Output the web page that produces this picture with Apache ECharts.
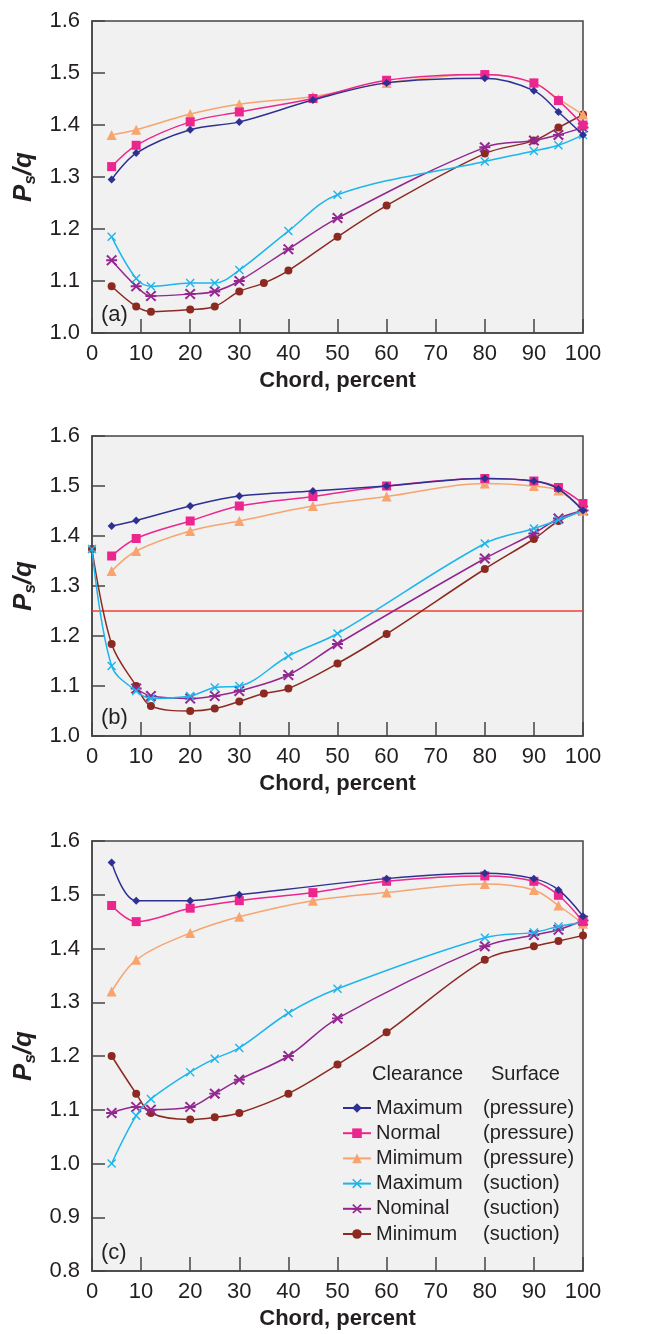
<!DOCTYPE html>
<html>
<head>
<meta charset="utf-8">
<script src="https://cdn.jsdelivr.net/npm/echarts@6/dist/echarts.min.js"></script>
<style>
html,body{margin:0;padding:0;background:#fff;}
#chart{width:654px;height:1334px;}
</style>
</head>
<body>
<div id="chart"></div>
<script>
// ---- Data ----
const xTickLabels = [0,10,20,30,40,50,60,70,80,90,100];
const yTickLabelsAB = [1.0,1.1,1.2,1.3,1.4,1.5,1.6];
const yTickLabelsC = [0.8,0.9,1.0,1.1,1.2,1.3,1.4,1.5,1.6];

const seriesNames = ['Maximum (pressure)','Normal (pressure)','Mimimum (pressure)','Maximum (suction)','Nominal (suction)','Minimum (suction)'];

// Panel (a)
const a_maxP_x = [4,9,20,30,45,60,80,90,95,100];
const a_maxP_y = [1.295,1.346,1.391,1.406,1.448,1.481,1.490,1.466,1.425,1.381];
const a_normP_x = [4,9,20,30,45,60,80,90,95,100];
const a_normP_y = [1.320,1.361,1.406,1.425,1.451,1.486,1.497,1.481,1.447,1.400];
const a_minP_x = [4,9,20,30,45,60,80,90,95,100];
const a_minP_y = [1.381,1.391,1.421,1.440,1.455,1.481,1.497,1.481,1.450,1.420];
const a_maxS_x = [4,9,12,20,25,30,40,50,80,90,95,100];
const a_maxS_y = [1.185,1.105,1.090,1.096,1.096,1.121,1.196,1.266,1.330,1.350,1.361,1.381];
const a_nomS_x = [4,9,12,20,25,30,40,50,80,90,95,100];
const a_nomS_y = [1.140,1.090,1.071,1.075,1.080,1.100,1.161,1.221,1.357,1.370,1.381,1.395];
const a_minS_x = [4,9,12,20,25,30,35,40,50,60,80,90,95,100];
const a_minS_y = [1.090,1.051,1.041,1.045,1.051,1.080,1.096,1.120,1.185,1.245,1.345,1.370,1.395,1.420];

// Panel (b)
const b_maxP_x = [4,9,20,30,45,60,80,90,95,100];
const b_maxP_y = [1.420,1.431,1.460,1.480,1.490,1.500,1.515,1.510,1.494,1.451];
const b_normP_x = [4,9,20,30,45,60,80,90,95,100];
const b_normP_y = [1.360,1.395,1.430,1.460,1.479,1.500,1.515,1.510,1.497,1.465];
const b_minP_x = [4,9,20,30,45,60,80,90,95,100];
const b_minP_y = [1.330,1.370,1.410,1.430,1.460,1.479,1.505,1.500,1.491,1.451];
const b_maxS_x = [0,4,9,12,20,25,30,40,50,80,90,95,100];
const b_maxS_y = [1.374,1.140,1.090,1.075,1.080,1.097,1.100,1.160,1.205,1.385,1.415,1.432,1.451];
const b_nomS_x = [9,12,20,25,30,40,50,80,90,95,100];
const b_nomS_y = [1.095,1.080,1.075,1.080,1.090,1.122,1.184,1.355,1.405,1.435,1.451];
const b_minS_x = [0,4,9,12,20,25,30,35,40,50,60,80,90,95,100];
const b_minS_y = [1.374,1.184,1.100,1.060,1.050,1.055,1.069,1.085,1.095,1.145,1.204,1.334,1.394,1.430,1.451];
const b_refLine = [1.255];

// Panel (c)
const c_maxP_x = [4,9,20,30,60,80,90,95,100];
const c_maxP_y = [1.560,1.489,1.489,1.500,1.530,1.540,1.530,1.509,1.460];
const c_normP_x = [4,9,20,30,45,60,80,90,95,100];
const c_normP_y = [1.480,1.450,1.475,1.489,1.504,1.525,1.535,1.525,1.499,1.450];
const c_minP_x = [4,9,20,30,45,60,80,90,95,100];
const c_minP_y = [1.320,1.379,1.429,1.459,1.489,1.504,1.520,1.509,1.480,1.446];
const c_maxS_x = [4,9,12,20,25,30,40,50,80,90,95,100];
const c_maxS_y = [1.000,1.089,1.120,1.170,1.195,1.215,1.280,1.325,1.420,1.430,1.441,1.449];
const c_nomS_x = [4,9,12,20,25,30,40,50,80,90,95,100];
const c_nomS_y = [1.094,1.105,1.100,1.105,1.130,1.156,1.200,1.270,1.404,1.425,1.435,1.452];
const c_minS_x = [4,9,12,20,25,30,40,50,60,80,90,95,100];
const c_minS_y = [1.200,1.130,1.094,1.082,1.086,1.094,1.130,1.184,1.244,1.379,1.404,1.414,1.424];

// ---- Styles ----
const FONT = '"Liberation Sans", Arial, Helvetica, sans-serif';
const TXT = '#231f20';
const colors = ['#2e3192','#ec268f','#f7a46f','#1cb5ec','#93278f','#8c2a22'];
const X_PATH = 'path://M0,1.1 L1.1,0 L5,3.9 L8.9,0 L10,1.1 L6.1,5 L10,8.9 L8.9,10 L5,6.1 L1.1,10 L0,8.9 L3.9,5 Z';
const AST_PATH = 'path://M0,1.4 L1.4,0 L5,3.6 L8.6,0 L10,1.4 L6.6,4.1 L10,4.1 L10,5.9 L6.6,5.9 L10,8.6 L8.6,10 L5,6.4 L1.4,10 L0,8.6 L3.4,5.9 L0,5.9 L0,4.1 L3.4,4.1 Z';
const symbols = ['diamond','rect','triangle',X_PATH,AST_PATH,'circle'];
const symbolSizes = [8,9,10,9,11,8];

const panels = [
  {xs:[a_maxP_x,a_normP_x,a_minP_x,a_maxS_x,a_nomS_x,a_minS_x], ys:[a_maxP_y,a_normP_y,a_minP_y,a_maxS_y,a_nomS_y,a_minS_y], top:21, height:312, min:1.0, max:1.6, label:'(a)'},
  {xs:[b_maxP_x,b_normP_x,b_minP_x,b_maxS_x,b_nomS_x,b_minS_x], ys:[b_maxP_y,b_normP_y,b_minP_y,b_maxS_y,b_nomS_y,b_minS_y], top:436, height:300, min:1.0, max:1.6, label:'(b)', ref:b_refLine},
  {xs:[c_maxP_x,c_normP_x,c_minP_x,c_maxS_x,c_nomS_x,c_minS_x], ys:[c_maxP_y,c_normP_y,c_minP_y,c_maxS_y,c_nomS_y,c_minS_y], top:841, height:430, min:0.8, max:1.6, label:'(c)'}
];

const grids = [], xAxes = [], yAxes = [], series = [], graphics = [];
panels.forEach((p, i) => {
  grids.push({left:92, right:71, top:p.top, height:p.height, show:true, backgroundColor:'#f1f1f1', borderColor:'#444', borderWidth:1.5, containLabel:false});
  xAxes.push({
    type:'value', gridIndex:i, min:0, max:100, interval:10,
    name:'Chord, percent', nameLocation:'middle', nameGap:37,
    nameTextStyle:{fontFamily:FONT, fontSize:22, fontWeight:'bold', color:TXT},
    axisLine:{show:true, lineStyle:{color:'#444', width:1.5}},
    axisTick:{show:true, inside:true, length:14, lineStyle:{color:'#444', width:1.5}},
    axisLabel:{fontFamily:FONT, fontSize:22, color:TXT, margin:10},
    splitLine:{show:false}
  });
  yAxes.push({
    type:'value', gridIndex:i, min:p.min, max:p.max, interval:0.1,
    name:'{i|P}{s|s}{i|/q}', nameLocation:'middle', nameGap:52,
    nameTextStyle:{fontFamily:FONT, color:TXT, rich:{
      i:{fontFamily:FONT, fontSize:26, fontStyle:'italic', fontWeight:'bold', color:TXT, lineHeight:30},
      s:{fontFamily:FONT, fontSize:17, fontStyle:'italic', fontWeight:'bold', color:TXT, lineHeight:17, verticalAlign:'bottom'}
    }},
    axisLine:{show:true, lineStyle:{color:'#444', width:1.5}},
    axisTick:{show:true, inside:true, length:13, lineStyle:{color:'#444', width:1.5}},
    axisLabel:{fontFamily:FONT, fontSize:22, color:TXT, margin:12, formatter:v => v.toFixed(1)},
    splitLine:{show:false}
  });
  for (let k = 0; k < 6; k++) {
    const s = {
      name: seriesNames[k], type:'line', xAxisIndex:i, yAxisIndex:i,
      data: p.xs[k].map((x, j) => [x, p.ys[k][j]]),
      smooth:0.35, symbol:symbols[k], symbolSize:symbolSizes[k],
      lineStyle:{color:colors[k], width:1.5},
      itemStyle:{color:colors[k]},
      z: 10 - k
    };
    if (p.ref && k === 0) {
      s.markLine = {silent:true, symbol:'none', label:{show:false},
        lineStyle:{color:'#ee4035', width:1.5, type:'solid'},
        data: p.ref.map(v => ({yAxis:v}))};
    }
    series.push(s);
  }
  graphics.push({type:'text', left:101, top:p.top + p.height - 29,
    style:{text:p.label, font:'22px ' + FONT, fill:TXT}});
});

graphics.push({type:'text', left:372, top:1064, style:{text:'Clearance', font:'20px ' + FONT, fill:TXT}});
graphics.push({type:'text', left:491, top:1064, style:{text:'Surface', font:'20px ' + FONT, fill:TXT}});

const chart = echarts.init(document.getElementById('chart'), null, {renderer:'canvas'});
chart.setOption({
  animation:false,
  backgroundColor:'#fff',
  grid:grids, xAxis:xAxes, yAxis:yAxes, series:series,
  legend:{
    data:seriesNames, orient:'vertical', left:342, top:1097, padding:0,
    itemWidth:28, itemHeight:12, itemGap:3.2,
    formatter: name => { const m = name.split(' '); return '{a|' + m[0] + '}{b|' + m[1] + '}'; },
    textStyle:{fontFamily:FONT, fontSize:20, color:TXT, lineHeight:22,
      rich:{a:{fontFamily:FONT, fontSize:20, color:TXT, width:107, lineHeight:22}, b:{fontFamily:FONT, fontSize:20, color:TXT, lineHeight:22}}}
  },
  graphic:graphics
});
</script>
</body>
</html>
